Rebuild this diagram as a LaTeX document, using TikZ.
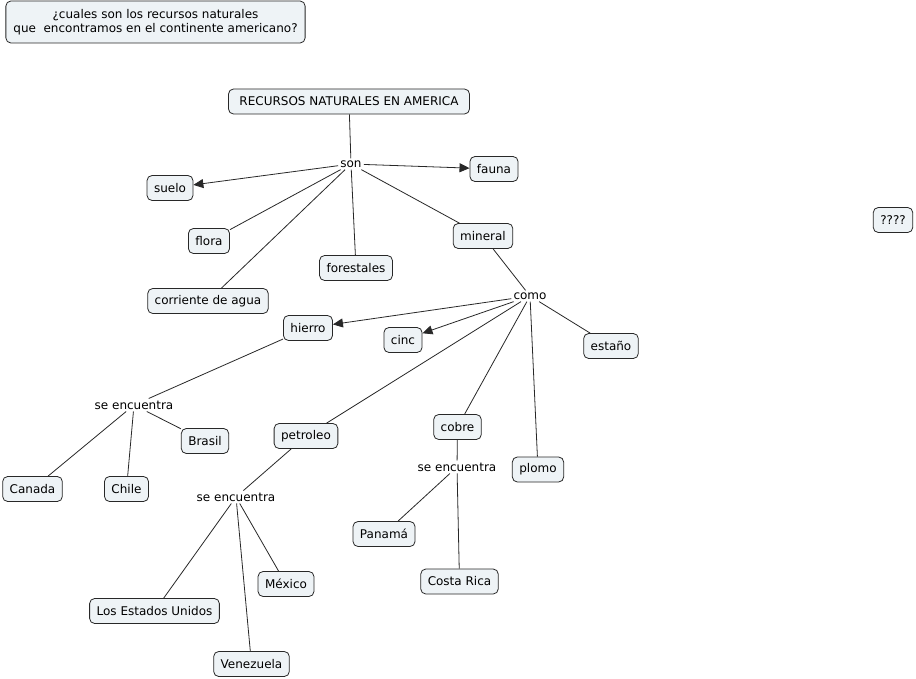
\documentclass[tikz,border=0pt]{standalone}
\usepackage{fontspec}
\setmainfont{DejaVu Sans}
\usetikzlibrary{arrows.meta}
\definecolor{boxfill}{RGB}{238,243,246}
\definecolor{lineclr}{RGB}{40,40,40}
\tikzset{
  cbox/.style={draw=lineclr, fill=boxfill, rounded corners=5pt, line width=0.8pt,
    inner xsep=7pt, minimum height=25pt, font=\fontsize{12}{14.5}\selectfont, align=center},
  lbl/.style={inner sep=2pt, font=\fontsize{12}{14}\selectfont, fill=white},
  conn/.style={draw=lineclr, line width=0.8pt},
  arr/.style={conn, -{Triangle[length=10pt,width=9pt]}}
}
\begin{document}
\begin{tikzpicture}[x=1pt,y=-1pt]
\path[use as bounding box, fill=white] (0,0) rectangle (916,679);
% nodes
\node[cbox, minimum height=42pt, inner xsep=7.5pt] (q) at (155.5,22) {¿cuales son los recursos naturales\\que~ encontramos en el continente americano?};
\node[cbox, inner xsep=11pt] (title) at (349,101.5) {RECURSOS NATURALES EN AMERICA};
\node[lbl] (son) at (351,164) {son};
\node[cbox] (fauna) at (494,169) {fauna};
\node[cbox] (suelo) at (170,188) {suelo};
\node[cbox] (flora) at (209,241) {flora};
\node[cbox] (forestales) at (356,268) {forestales};
\node[cbox] (mineral) at (483,236) {mineral};
\node[cbox] (corriente) at (208,301) {corriente de agua};
\node[cbox] (qq) at (893,220) {????};
\node[lbl] (como) at (530,296) {como};
\node[cbox] (hierro) at (308,328) {hierro};
\node[cbox] (cinc) at (403,340) {cinc};
\node[cbox] (estano) at (611,346) {estaño};
\node[lbl] (se1) at (134,405) {se encuentra};
\node[cbox] (brasil) at (205,441) {Brasil};
\node[cbox] (canada) at (32.5,489) {Canada};
\node[cbox] (chile) at (126.5,489) {Chile};
\node[cbox] (petroleo) at (306,436) {petroleo};
\node[cbox] (cobre) at (457.5,427) {cobre};
\node[lbl] (se3) at (457,467) {se encuentra};
\node[cbox] (plomo) at (538,469.5) {plomo};
\node[lbl] (se2) at (236,497) {se encuentra};
\node[cbox] (panama) at (384,534) {Panamá};
\node[cbox] (costa) at (459.5,581.5) {Costa Rica};
\node[cbox] (mexico) at (286,584) {México};
\node[cbox] (eeuu) at (154.5,611) {Los Estados Unidos};
\node[cbox] (venez) at (251.5,664) {Venezuela};
% connectors
\draw[conn] (title) -- (son);
\draw[arr] (son) -- (fauna);
\draw[arr] (son) -- (suelo);
\draw[conn] (son) -- (flora);
\draw[conn] (son) -- (forestales);
\draw[conn] (son) -- (corriente);
\draw[conn] (son) -- (mineral);
\draw[conn] (mineral) -- (como);
\draw[arr] (como) -- (hierro);
\draw[arr] (como) -- (cinc);
\draw[conn] (como) -- (estano);
\draw[conn] (como) -- (petroleo);
\draw[conn] (como) -- (cobre);
\draw[conn] (como) -- (plomo);
\draw[conn] (hierro) -- (se1);
\draw[conn] (se1) -- (brasil);
\draw[conn] (se1) -- (canada);
\draw[conn] (se1) -- (chile);
\draw[conn] (petroleo) -- (se2);
\draw[conn] (se2) -- (eeuu);
\draw[conn] (se2) -- (venez);
\draw[conn] (se2) -- (mexico);
\draw[conn] (cobre) -- (se3);
\draw[conn] (se3) -- (panama);
\draw[conn] (se3) -- (costa);
\end{tikzpicture}
\end{document}
